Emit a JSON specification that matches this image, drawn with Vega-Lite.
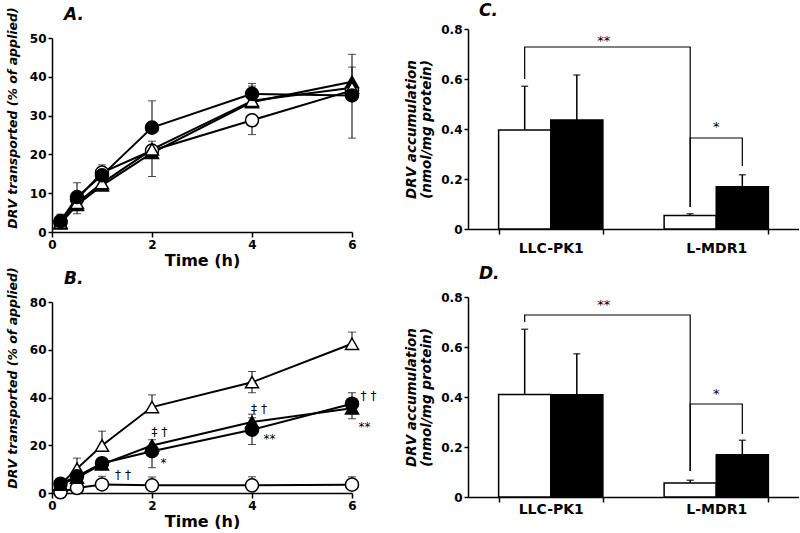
{
  "$schema": "https://vega.github.io/schema/vega-lite/v6.json",
  "background": "white",
  "padding": {"left": 5, "top": 2, "right": 0, "bottom": 0},
  "config": {
    "font": "DejaVu Sans",
    "view": {"stroke": null},
    "axis": {"grid": false, "domainColor": "black", "domainWidth": 1.5, "tickColor": "black", "tickWidth": 1.5, "tickSize": 5, "labelFont": "DejaVu Sans", "labelFontWeight": "bold", "labelFontSize": 12, "labelColor": "black", "labelPadding": 2, "titleColor": "black", "titleFont": "DejaVu Sans", "labelFlush": false},
    "title": {"anchor": "start", "frame": "group", "fontSize": 17, "fontWeight": "bold", "fontStyle": "italic", "color": "black", "font": "DejaVu Sans"}
  },
  "datasets": {
    "A": [
      {"s": "oc", "t": 0.17, "v": 2.5}, {"s": "oc", "t": 0.5, "v": 8.5}, {"s": "oc", "t": 1, "v": 15.3}, {"s": "oc", "t": 2, "v": 21}, {"s": "oc", "t": 4, "v": 28.8}, {"s": "oc", "t": 6, "v": 36.5},
      {"s": "ft", "t": 0.17, "v": 2.2}, {"s": "ft", "t": 0.5, "v": 7.0}, {"s": "ft", "t": 1, "v": 12.0}, {"s": "ft", "t": 2, "v": 20.4}, {"s": "ft", "t": 4, "v": 33.5}, {"s": "ft", "t": 6, "v": 38.7},
      {"s": "ot", "t": 0.17, "v": 2.4}, {"s": "ot", "t": 0.5, "v": 7.5}, {"s": "ot", "t": 1, "v": 12.6}, {"s": "ot", "t": 2, "v": 21.3}, {"s": "ot", "t": 4, "v": 33.8}, {"s": "ot", "t": 6, "v": 37.2},
      {"s": "fc", "t": 0.17, "v": 2.8}, {"s": "fc", "t": 0.5, "v": 9.0}, {"s": "fc", "t": 1, "v": 14.6}, {"s": "fc", "t": 2, "v": 26.9}, {"s": "fc", "t": 4, "v": 35.6}, {"s": "fc", "t": 6, "v": 35.2}
    ],
    "errA": [
      {"t": 0.17, "m": 2.8, "e": 4.6},
      {"t": 0.5, "m": 9.0, "e": 12.7}, {"t": 0.5, "m": 7.0, "e": 4.7},
      {"t": 1, "m": 15.3, "e": 17.3},
      {"t": 2, "m": 26.9, "e": 33.8}, {"t": 2, "m": 21.0, "e": 23.4}, {"t": 2, "m": 20.4, "e": 14.3},
      {"t": 4, "m": 35.6, "e": 38.3}, {"t": 4, "m": 35.6, "e": 37.6}, {"t": 4, "m": 28.8, "e": 25.1},
      {"t": 6, "m": 35.2, "e": 45.8}, {"t": 6, "m": 38.7, "e": 42.5}, {"t": 6, "m": 35.2, "e": 24.2}
    ],
    "B": [
      {"s": "oc", "t": 0.17, "v": 0.3}, {"s": "oc", "t": 0.5, "v": 2.1}, {"s": "oc", "t": 1, "v": 3.6}, {"s": "oc", "t": 2, "v": 3.2}, {"s": "oc", "t": 4, "v": 3.2}, {"s": "oc", "t": 6, "v": 3.5},
      {"s": "ot", "t": 0.17, "v": 3.6}, {"s": "ot", "t": 0.5, "v": 10.2}, {"s": "ot", "t": 1, "v": 19.9}, {"s": "ot", "t": 2, "v": 36}, {"s": "ot", "t": 4, "v": 46.4}, {"s": "ot", "t": 6, "v": 62.5},
      {"s": "ft", "t": 0.17, "v": 3.5}, {"s": "ft", "t": 0.5, "v": 6.5}, {"s": "ft", "t": 1, "v": 12}, {"s": "ft", "t": 2, "v": 19.9}, {"s": "ft", "t": 4, "v": 29.7}, {"s": "ft", "t": 6, "v": 35.5},
      {"s": "fc", "t": 0.17, "v": 3.9}, {"s": "fc", "t": 0.5, "v": 7}, {"s": "fc", "t": 1, "v": 12.5}, {"s": "fc", "t": 2, "v": 17.5}, {"s": "fc", "t": 4, "v": 26.5}, {"s": "fc", "t": 6, "v": 37.4}
    ],
    "errB": [
      {"t": 0.5, "m": 10.2, "e": 14.6}, {"t": 1, "m": 19.9, "e": 25.9}, {"t": 2, "m": 36, "e": 41.1}, {"t": 4, "m": 46.4, "e": 50.9}, {"t": 4, "m": 46.4, "e": 42}, {"t": 6, "m": 62.5, "e": 67.4},
      {"t": 2, "m": 17.5, "e": 22.3}, {"t": 2, "m": 17.5, "e": 10.6}, {"t": 4, "m": 26.5, "e": 20.3}, {"t": 4, "m": 26.5, "e": 31.5}, {"t": 6, "m": 37.4, "e": 42},
      {"t": 4, "m": 29.7, "e": 33}, {"t": 6, "m": 35.5, "e": 31.1},
      {"t": 1, "m": 3.6, "e": 7}, {"t": 2, "m": 3.2, "e": 6.7}, {"t": 4, "m": 3.2, "e": 6.8}, {"t": 6, "m": 3.5, "e": 6.8}
    ],
    "annB": [
      {"t": 1.42, "v": 7.4, "txt": "† †"},
      {"t": 2.15, "v": 25.6, "txt": "‡ †"},
      {"t": 4.14, "v": 35.3, "txt": "‡ †"},
      {"t": 6.33, "v": 40.7, "txt": "† †"},
      {"t": 2.23, "v": 12.6, "txt": "*"},
      {"t": 4.35, "v": 22.7, "txt": "**"},
      {"t": 6.25, "v": 27.6, "txt": "**"}
    ],
    "C": [
      {"cell": "LLC-PK1", "tr": "white", "v": 0.396, "hi": 0.571},
      {"cell": "LLC-PK1", "tr": "black", "v": 0.436, "hi": 0.616},
      {"cell": "L-MDR1", "tr": "white", "v": 0.054, "hi": 0.061},
      {"cell": "L-MDR1", "tr": "black", "v": 0.169, "hi": 0.217}
    ],
    "D": [
      {"cell": "LLC-PK1", "tr": "white", "v": 0.41, "hi": 0.671},
      {"cell": "LLC-PK1", "tr": "black", "v": 0.409, "hi": 0.573},
      {"cell": "L-MDR1", "tr": "white", "v": 0.056, "hi": 0.067},
      {"cell": "L-MDR1", "tr": "black", "v": 0.169, "hi": 0.227}
    ],
    "brC": [
      {"br": "a", "k": 1, "cell": "LLC-PK1", "tr": "white", "v": 0.6},
      {"br": "a", "k": 2, "cell": "LLC-PK1", "tr": "white", "v": 0.728},
      {"br": "a", "k": 3, "cell": "L-MDR1", "tr": "white", "v": 0.728},
      {"br": "a", "k": 4, "cell": "L-MDR1", "tr": "white", "v": 0.088},
      {"br": "b", "k": 1, "cell": "L-MDR1", "tr": "white", "v": 0.088},
      {"br": "b", "k": 2, "cell": "L-MDR1", "tr": "white", "v": 0.364},
      {"br": "b", "k": 3, "cell": "L-MDR1", "tr": "black", "v": 0.364},
      {"br": "b", "k": 4, "cell": "L-MDR1", "tr": "black", "v": 0.252}
    ],
    "brD": [
      {"br": "a", "k": 1, "cell": "LLC-PK1", "tr": "white", "v": 0.70},
      {"br": "a", "k": 2, "cell": "LLC-PK1", "tr": "white", "v": 0.728},
      {"br": "a", "k": 3, "cell": "L-MDR1", "tr": "white", "v": 0.728},
      {"br": "a", "k": 4, "cell": "L-MDR1", "tr": "white", "v": 0.104},
      {"br": "b", "k": 1, "cell": "L-MDR1", "tr": "white", "v": 0.104},
      {"br": "b", "k": 2, "cell": "L-MDR1", "tr": "white", "v": 0.372},
      {"br": "b", "k": 3, "cell": "L-MDR1", "tr": "black", "v": 0.372},
      {"br": "b", "k": 4, "cell": "L-MDR1", "tr": "black", "v": 0.252}
    ],
    "annC": [
      {"cell": "LLC-PK1", "v": 0.752, "txt": "**", "kind": "a"},
      {"cell": "L-MDR1", "v": 0.408, "txt": "*", "kind": "b"}
    ],
    "annD": [
      {"cell": "LLC-PK1", "v": 0.768, "txt": "**", "kind": "a"},
      {"cell": "L-MDR1", "v": 0.412, "txt": "*", "kind": "b"}
    ]
  },
  "columns": 2,
  "align": "none",
  "bounds": "flush",
  "spacing": {"row": 70, "column": 116},
  "concat": [
    {
      "title": {"text": "A.", "dx": 12, "offset": -17.5},
      "width": 300,
      "height": 203,
      "layer": [
        {"data": {"name": "errA"}, "mark": {"type": "rule", "color": "black", "strokeWidth": 1},
         "encoding": {"x": {"field": "t", "type": "quantitative", "title": "Time (h)"}, "y": {"field": "m", "type": "quantitative", "title": "DRV transported (% of applied)"}, "y2": {"field": "e"}}},
        {"data": {"name": "errA"}, "mark": {"type": "tick", "orient": "horizontal", "size": 8, "thickness": 1, "color": "black"},
         "encoding": {"x": {"field": "t", "type": "quantitative", "title": "Time (h)"}, "y": {"field": "e", "type": "quantitative", "title": "DRV transported (% of applied)"}}},
        {"data": {"name": "A"}, "mark": {"type": "line", "color": "black", "strokeWidth": 2},
         "encoding": {"x": {"field": "t", "type": "quantitative", "title": "Time (h)"}, "y": {"field": "v", "type": "quantitative", "title": "DRV transported (% of applied)"}, "detail": {"field": "s"}}},
        {"data": {"name": "A"}, "mark": {"type": "point", "filled": true, "size": 170, "stroke": "black", "strokeWidth": 1.5, "opacity": 1},
         "encoding": {
           "x": {"field": "t", "type": "quantitative", "title": "Time (h)", "scale": {"domain": [0, 6], "nice": false},
                 "axis": {"values": [0, 2, 4, 6], "titleFontSize": 16, "titleFontWeight": "bold", "titlePadding": 2}},
           "y": {"field": "v", "type": "quantitative", "title": "DRV transported (% of applied)", "scale": {"domain": [0, 50], "nice": false, "range": [203, 9]},
                 "axis": {"values": [0, 10, 20, 30, 40, 50], "tickSize": 4, "titleFontSize": 12.5, "titleFontStyle": "italic", "titleFontWeight": "bold", "titleX": -40, "titleY": 88.5, "titleAngle": 270, "titleAlign": "center", "titleBaseline": "middle"}},
           "shape": {"field": "s", "scale": {"domain": ["oc", "fc", "ot", "ft"], "range": ["circle", "circle", "triangle-up", "triangle-up"]}, "legend": null},
           "fill": {"field": "s", "scale": {"domain": ["oc", "fc", "ot", "ft"], "range": ["white", "black", "white", "black"]}, "legend": null}
         }}
      ]
    },
    {
      "title": {"text": "C.", "dx": 11, "offset": 3},
      "width": 331,
      "height": 200,
      "layer": [
        {"data": {"name": "C"}, "mark": {"type": "bar", "stroke": "black", "strokeWidth": 1.5},
         "encoding": {
           "x": {"field": "cell", "type": "nominal", "sort": null, "scale": {"domain": ["LLC-PK1", "L-MDR1"], "paddingInner": 0.37, "paddingOuter": 0.185},
                 "axis": {"title": null, "tickBand": "extent", "labelAngle": 0, "labelFontSize": 14, "labelPadding": 7}},
           "xOffset": {"field": "tr", "type": "nominal", "scale": {"domain": ["white", "black"], "paddingInner": 0, "paddingOuter": 0}},
           "y": {"field": "v", "type": "quantitative", "scale": {"domain": [0, 0.8], "nice": false},
                 "axis": {"values": [0, 0.2, 0.4, 0.6, 0.8], "labelExpr": "datum.value == 0 ? '0' : format(datum.value, '.1f')", "tickSize": 4, "title": ["DRV accumulation", "(nmol/mg protein)"], "titleFontSize": 13.5, "titleFontStyle": "italic", "titleFontWeight": "bold", "titleX": -57, "titleY": 100, "titleAngle": 270, "titleAlign": "center", "titleBaseline": "middle", "titleLineHeight": 15}},
           "fill": {"field": "tr", "scale": {"domain": ["white", "black"], "range": ["white", "black"]}, "legend": null}
         }},
        {"data": {"name": "C"}, "mark": {"type": "rule", "color": "black", "strokeWidth": 1.5},
         "encoding": {"x": {"field": "cell", "type": "nominal"}, "xOffset": {"field": "tr", "type": "nominal"}, "y": {"field": "v", "type": "quantitative"}, "y2": {"field": "hi"}}},
        {"data": {"name": "C"}, "mark": {"type": "tick", "orient": "horizontal", "size": 7, "thickness": 1.5, "color": "black"},
         "encoding": {"x": {"field": "cell", "type": "nominal"}, "xOffset": {"field": "tr", "type": "nominal"}, "y": {"field": "hi", "type": "quantitative"}}},
        {"data": {"name": "brC"}, "transform": [{"filter": "datum.br == 'a'"}], "mark": {"type": "line", "color": "black", "strokeWidth": 1.2, "xOffset": -3},
         "encoding": {"x": {"field": "cell", "type": "nominal"}, "xOffset": {"field": "tr", "type": "nominal"}, "y": {"field": "v", "type": "quantitative"}, "order": {"field": "k"}}},
        {"data": {"name": "brC"}, "transform": [{"filter": "datum.br == 'b'"}], "mark": {"type": "line", "color": "black", "strokeWidth": 1.2, "xOffset": 2},
         "encoding": {"x": {"field": "cell", "type": "nominal"}, "xOffset": {"field": "tr", "type": "nominal"}, "y": {"field": "v", "type": "quantitative"}, "order": {"field": "k"}}},
        {"data": {"name": "annC"}, "transform": [{"filter": "datum.kind == 'a'"}], "mark": {"type": "text", "fontSize": 13, "color": "black", "dx": 53, "baseline": "middle"},
         "encoding": {"x": {"field": "cell", "type": "nominal"}, "y": {"field": "v", "type": "quantitative"}, "text": {"field": "txt"}}},
        {"data": {"name": "annC"}, "transform": [{"filter": "datum.kind == 'b'"}], "mark": {"type": "text", "fontSize": 13, "color": "black", "baseline": "middle"},
         "encoding": {"x": {"field": "cell", "type": "nominal"}, "y": {"field": "v", "type": "quantitative"}, "text": {"field": "txt"}}}
      ]
    },
    {
      "title": {"text": "B.", "dx": 12, "offset": -21.5},
      "width": 300,
      "height": 191,
      "layer": [
        {"data": {"name": "errB"}, "mark": {"type": "rule", "color": "black", "strokeWidth": 1},
         "encoding": {"x": {"field": "t", "type": "quantitative", "title": "Time (h)"}, "y": {"field": "m", "type": "quantitative", "title": "DRV transported (% of applied)"}, "y2": {"field": "e"}}},
        {"data": {"name": "errB"}, "mark": {"type": "tick", "orient": "horizontal", "size": 8, "thickness": 1, "color": "black"},
         "encoding": {"x": {"field": "t", "type": "quantitative", "title": "Time (h)"}, "y": {"field": "e", "type": "quantitative", "title": "DRV transported (% of applied)"}}},
        {"data": {"name": "B"}, "mark": {"type": "line", "color": "black", "strokeWidth": 2},
         "encoding": {"x": {"field": "t", "type": "quantitative", "title": "Time (h)"}, "y": {"field": "v", "type": "quantitative", "title": "DRV transported (% of applied)"}, "detail": {"field": "s"}}},
        {"data": {"name": "annB"}, "mark": {"type": "text", "fontSize": 12, "color": "black", "align": "center", "baseline": "middle"},
         "encoding": {"x": {"field": "t", "type": "quantitative", "title": "Time (h)"}, "y": {"field": "v", "type": "quantitative", "title": "DRV transported (% of applied)"}, "text": {"field": "txt"}}},
        {"data": {"name": "B"}, "mark": {"type": "point", "filled": true, "size": 170, "stroke": "black", "strokeWidth": 1.5, "opacity": 1},
         "encoding": {
           "x": {"field": "t", "type": "quantitative", "title": "Time (h)", "scale": {"domain": [0, 6], "nice": false},
                 "axis": {"values": [0, 2, 4, 6], "titleFontSize": 16, "titleFontWeight": "bold", "titlePadding": 2}},
           "y": {"field": "v", "type": "quantitative", "title": "DRV transported (% of applied)", "scale": {"domain": [0, 80], "nice": false},
                 "axis": {"values": [0, 20, 40, 60, 80], "tickSize": 4, "titleFontSize": 12.5, "titleFontStyle": "italic", "titleFontWeight": "bold", "titleX": -40, "titleY": 75.5, "titleAngle": 270, "titleAlign": "center", "titleBaseline": "middle"}},
           "shape": {"field": "s", "scale": {"domain": ["oc", "fc", "ot", "ft"], "range": ["circle", "circle", "triangle-up", "triangle-up"]}, "legend": null},
           "fill": {"field": "s", "scale": {"domain": ["oc", "fc", "ot", "ft"], "range": ["white", "black", "white", "black"]}, "legend": null}
         }}
      ]
    },
    {
      "title": {"text": "D.", "dx": 11, "offset": 8},
      "width": 331,
      "height": 195,
      "layer": [
        {"data": {"name": "D"}, "mark": {"type": "bar", "stroke": "black", "strokeWidth": 1.5},
         "encoding": {
           "x": {"field": "cell", "type": "nominal", "sort": null, "scale": {"domain": ["LLC-PK1", "L-MDR1"], "paddingInner": 0.37, "paddingOuter": 0.185},
                 "axis": {"title": null, "tickBand": "extent", "labelAngle": 0, "labelFontSize": 14, "labelPadding": 0}},
           "xOffset": {"field": "tr", "type": "nominal", "scale": {"domain": ["white", "black"], "paddingInner": 0, "paddingOuter": 0}},
           "y": {"field": "v", "type": "quantitative", "scale": {"domain": [0, 0.8], "nice": false, "range": [195, -5]},
                 "axis": {"values": [0, 0.2, 0.4, 0.6, 0.8], "labelExpr": "datum.value == 0 ? '0' : format(datum.value, '.1f')", "tickSize": 4, "title": ["DRV accumulation", "(nmol/mg protein)"], "titleFontSize": 13.5, "titleFontStyle": "italic", "titleFontWeight": "bold", "titleX": -57, "titleY": 95, "titleAngle": 270, "titleAlign": "center", "titleBaseline": "middle", "titleLineHeight": 15}},
           "fill": {"field": "tr", "scale": {"domain": ["white", "black"], "range": ["white", "black"]}, "legend": null}
         }},
        {"data": {"name": "D"}, "mark": {"type": "rule", "color": "black", "strokeWidth": 1.5},
         "encoding": {"x": {"field": "cell", "type": "nominal"}, "xOffset": {"field": "tr", "type": "nominal"}, "y": {"field": "v", "type": "quantitative"}, "y2": {"field": "hi"}}},
        {"data": {"name": "D"}, "mark": {"type": "tick", "orient": "horizontal", "size": 7, "thickness": 1.5, "color": "black"},
         "encoding": {"x": {"field": "cell", "type": "nominal"}, "xOffset": {"field": "tr", "type": "nominal"}, "y": {"field": "hi", "type": "quantitative"}}},
        {"data": {"name": "brD"}, "transform": [{"filter": "datum.br == 'a'"}], "mark": {"type": "line", "color": "black", "strokeWidth": 1.2, "xOffset": -3},
         "encoding": {"x": {"field": "cell", "type": "nominal"}, "xOffset": {"field": "tr", "type": "nominal"}, "y": {"field": "v", "type": "quantitative"}, "order": {"field": "k"}}},
        {"data": {"name": "brD"}, "transform": [{"filter": "datum.br == 'b'"}], "mark": {"type": "line", "color": "black", "strokeWidth": 1.2, "xOffset": 2},
         "encoding": {"x": {"field": "cell", "type": "nominal"}, "xOffset": {"field": "tr", "type": "nominal"}, "y": {"field": "v", "type": "quantitative"}, "order": {"field": "k"}}},
        {"data": {"name": "annD"}, "transform": [{"filter": "datum.kind == 'a'"}], "mark": {"type": "text", "fontSize": 13, "color": "black", "dx": 53, "baseline": "middle"},
         "encoding": {"x": {"field": "cell", "type": "nominal"}, "y": {"field": "v", "type": "quantitative"}, "text": {"field": "txt"}}},
        {"data": {"name": "annD"}, "transform": [{"filter": "datum.kind == 'b'"}], "mark": {"type": "text", "fontSize": 13, "color": "black", "baseline": "middle"},
         "encoding": {"x": {"field": "cell", "type": "nominal"}, "y": {"field": "v", "type": "quantitative"}, "text": {"field": "txt"}}}
      ]
    }
  ]
}
